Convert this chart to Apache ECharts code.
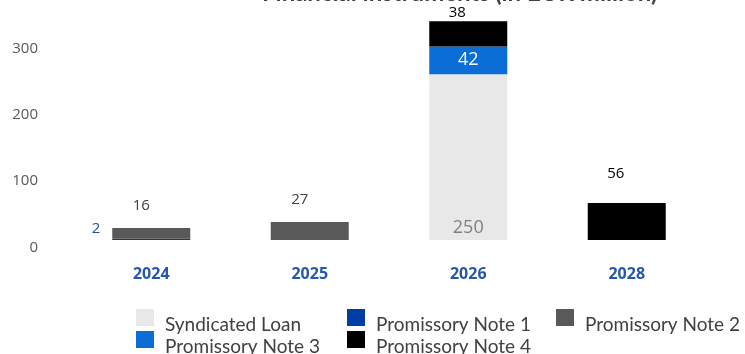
<!DOCTYPE html>
<html>
<head>
<meta charset="utf-8">
<script src="https://cdn.jsdelivr.net/npm/echarts@6/dist/echarts.min.js"></script>
<style>
  html, body { margin: 0; padding: 0; background: #ffffff; }
  #chart { width: 745px; height: 354px; }
</style>
</head>
<body>
<div id="chart"></div>
<script>
// Maturity profile of financial instruments, EUR million
const years = ['2024', '2025', '2026', '2028'];
const syndicatedLoan = [null, null, 250, null];
const promissoryNote1 = [2, null, null, null];
const promissoryNote2 = [16, 27, null, null];
const promissoryNote3 = [null, null, 42, null];
const promissoryNote4 = [null, null, 38, 56];
const yTicks = [0, 100, 200, 300];

const numFont = '"Open Sans", "Liberation Sans", sans-serif';
const legendFont = 'Lato, "Open Sans", sans-serif';

const chart = echarts.init(document.getElementById('chart'), null, { renderer: 'canvas' });

const barBase = {
  type: 'bar',
  stack: 'total',
  barWidth: 78,
  emphasis: { disabled: true }
};

// square swatch sitting in the upper part of a taller box, so the label reads a little lower
const swatch = 'path://M0,0L18,0L18,17L0,17Z M0,31L0.01,31L0.01,31.01Z';

// one legend entry per slot so the three-column grid is exact
function legendItem(name, left, top) {
  return {
    left: left, top: top,
    padding: 0,
    itemWidth: 18, itemHeight: 31,
    icon: swatch,
    data: [name],
    selectedMode: false,
    textStyle: {
      color: '#404040',
      fontFamily: legendFont,
      fontSize: 19,
      padding: [0, 0, 0, 6]
    }
  };
}

chart.setOption({
  animation: false,
  backgroundColor: '#ffffff',
  title: {
    text: '{b|Financial instruments} {n|(in EUR million)}',
    left: 262,
    top: -19,
    padding: 0,
    textStyle: {
      rich: {
        b: { fontFamily: legendFont, fontWeight: 'bold', fontSize: 24, color: '#404040' },
        n: { fontFamily: legendFont, fontSize: 24, color: '#404040' }
      }
    }
  },
  grid: { left: 72, right: 39, top: 8, bottom: 114 },
  legend: [
    legendItem('Syndicated Loan', 136, 309),
    legendItem('Promissory Note 1', 347, 309),
    legendItem('Promissory Note 2', 556, 309),
    legendItem('Promissory Note 3', 136, 331),
    legendItem('Promissory Note 4', 347, 331)
  ],
  xAxis: {
    type: 'category',
    data: years,
    axisLine: { show: false },
    axisTick: { show: false },
    axisLabel: {
      margin: 26,
      color: '#2556b0',
      fontWeight: 'bold',
      fontSize: 16,
      fontFamily: numFont
    }
  },
  yAxis: {
    type: 'value',
    min: 0,
    max: 350,
    interval: 100,
    splitLine: { show: false },
    axisLine: { show: false },
    axisTick: { show: false },
    axisLabel: {
      showMaxLabel: false,
      margin: 34,
      verticalAlign: 'top',
      color: '#595959',
      fontSize: 15,
      fontFamily: numFont,
      formatter: function (v) { return yTicks.indexOf(v) >= 0 ? String(v) : ''; }
    }
  },
  series: [
    Object.assign({}, barBase, {
      name: 'Syndicated Loan',
      data: syndicatedLoan,
      itemStyle: { color: '#e8e8e8' },
      label: {
        show: true, position: 'insideBottom', distance: 3,
        color: '#7f7f7f', fontSize: 18, fontFamily: numFont
      }
    }),
    Object.assign({}, barBase, {
      name: 'Promissory Note 1',
      data: promissoryNote1,
      itemStyle: { color: '#003da5' },
      label: {
        show: true, position: 'left', distance: 12, offset: [0, -11],
        color: '#1f4ea3', fontSize: 15, fontFamily: numFont
      }
    }),
    Object.assign({}, barBase, {
      name: 'Promissory Note 2',
      data: promissoryNote2,
      itemStyle: { color: '#595959' },
      label: {
        show: true, position: 'top', distance: 15, offset: [-10, 0],
        color: '#404040', fontSize: 15, fontFamily: numFont
      }
    }),
    Object.assign({}, barBase, {
      name: 'Promissory Note 3',
      data: promissoryNote3,
      itemStyle: { color: '#0b6dd6' },
      label: {
        show: true, position: 'inside',
        color: '#ffffff', fontSize: 18, fontFamily: numFont
      }
    }),
    Object.assign({}, barBase, {
      name: 'Promissory Note 4',
      data: promissoryNote4.map(function (v, i) {
        // the tall 2026 stack leaves little room above, so its label sits closer
        return { value: v, label: { distance: i === 2 ? 1 : 22 } };
      }),
      itemStyle: { color: '#000000' },
      label: {
        show: true, position: 'top', offset: [-11, 0],
        color: '#000000', fontSize: 15, fontFamily: numFont
      }
    })
  ]
});
</script>
</body>
</html>
